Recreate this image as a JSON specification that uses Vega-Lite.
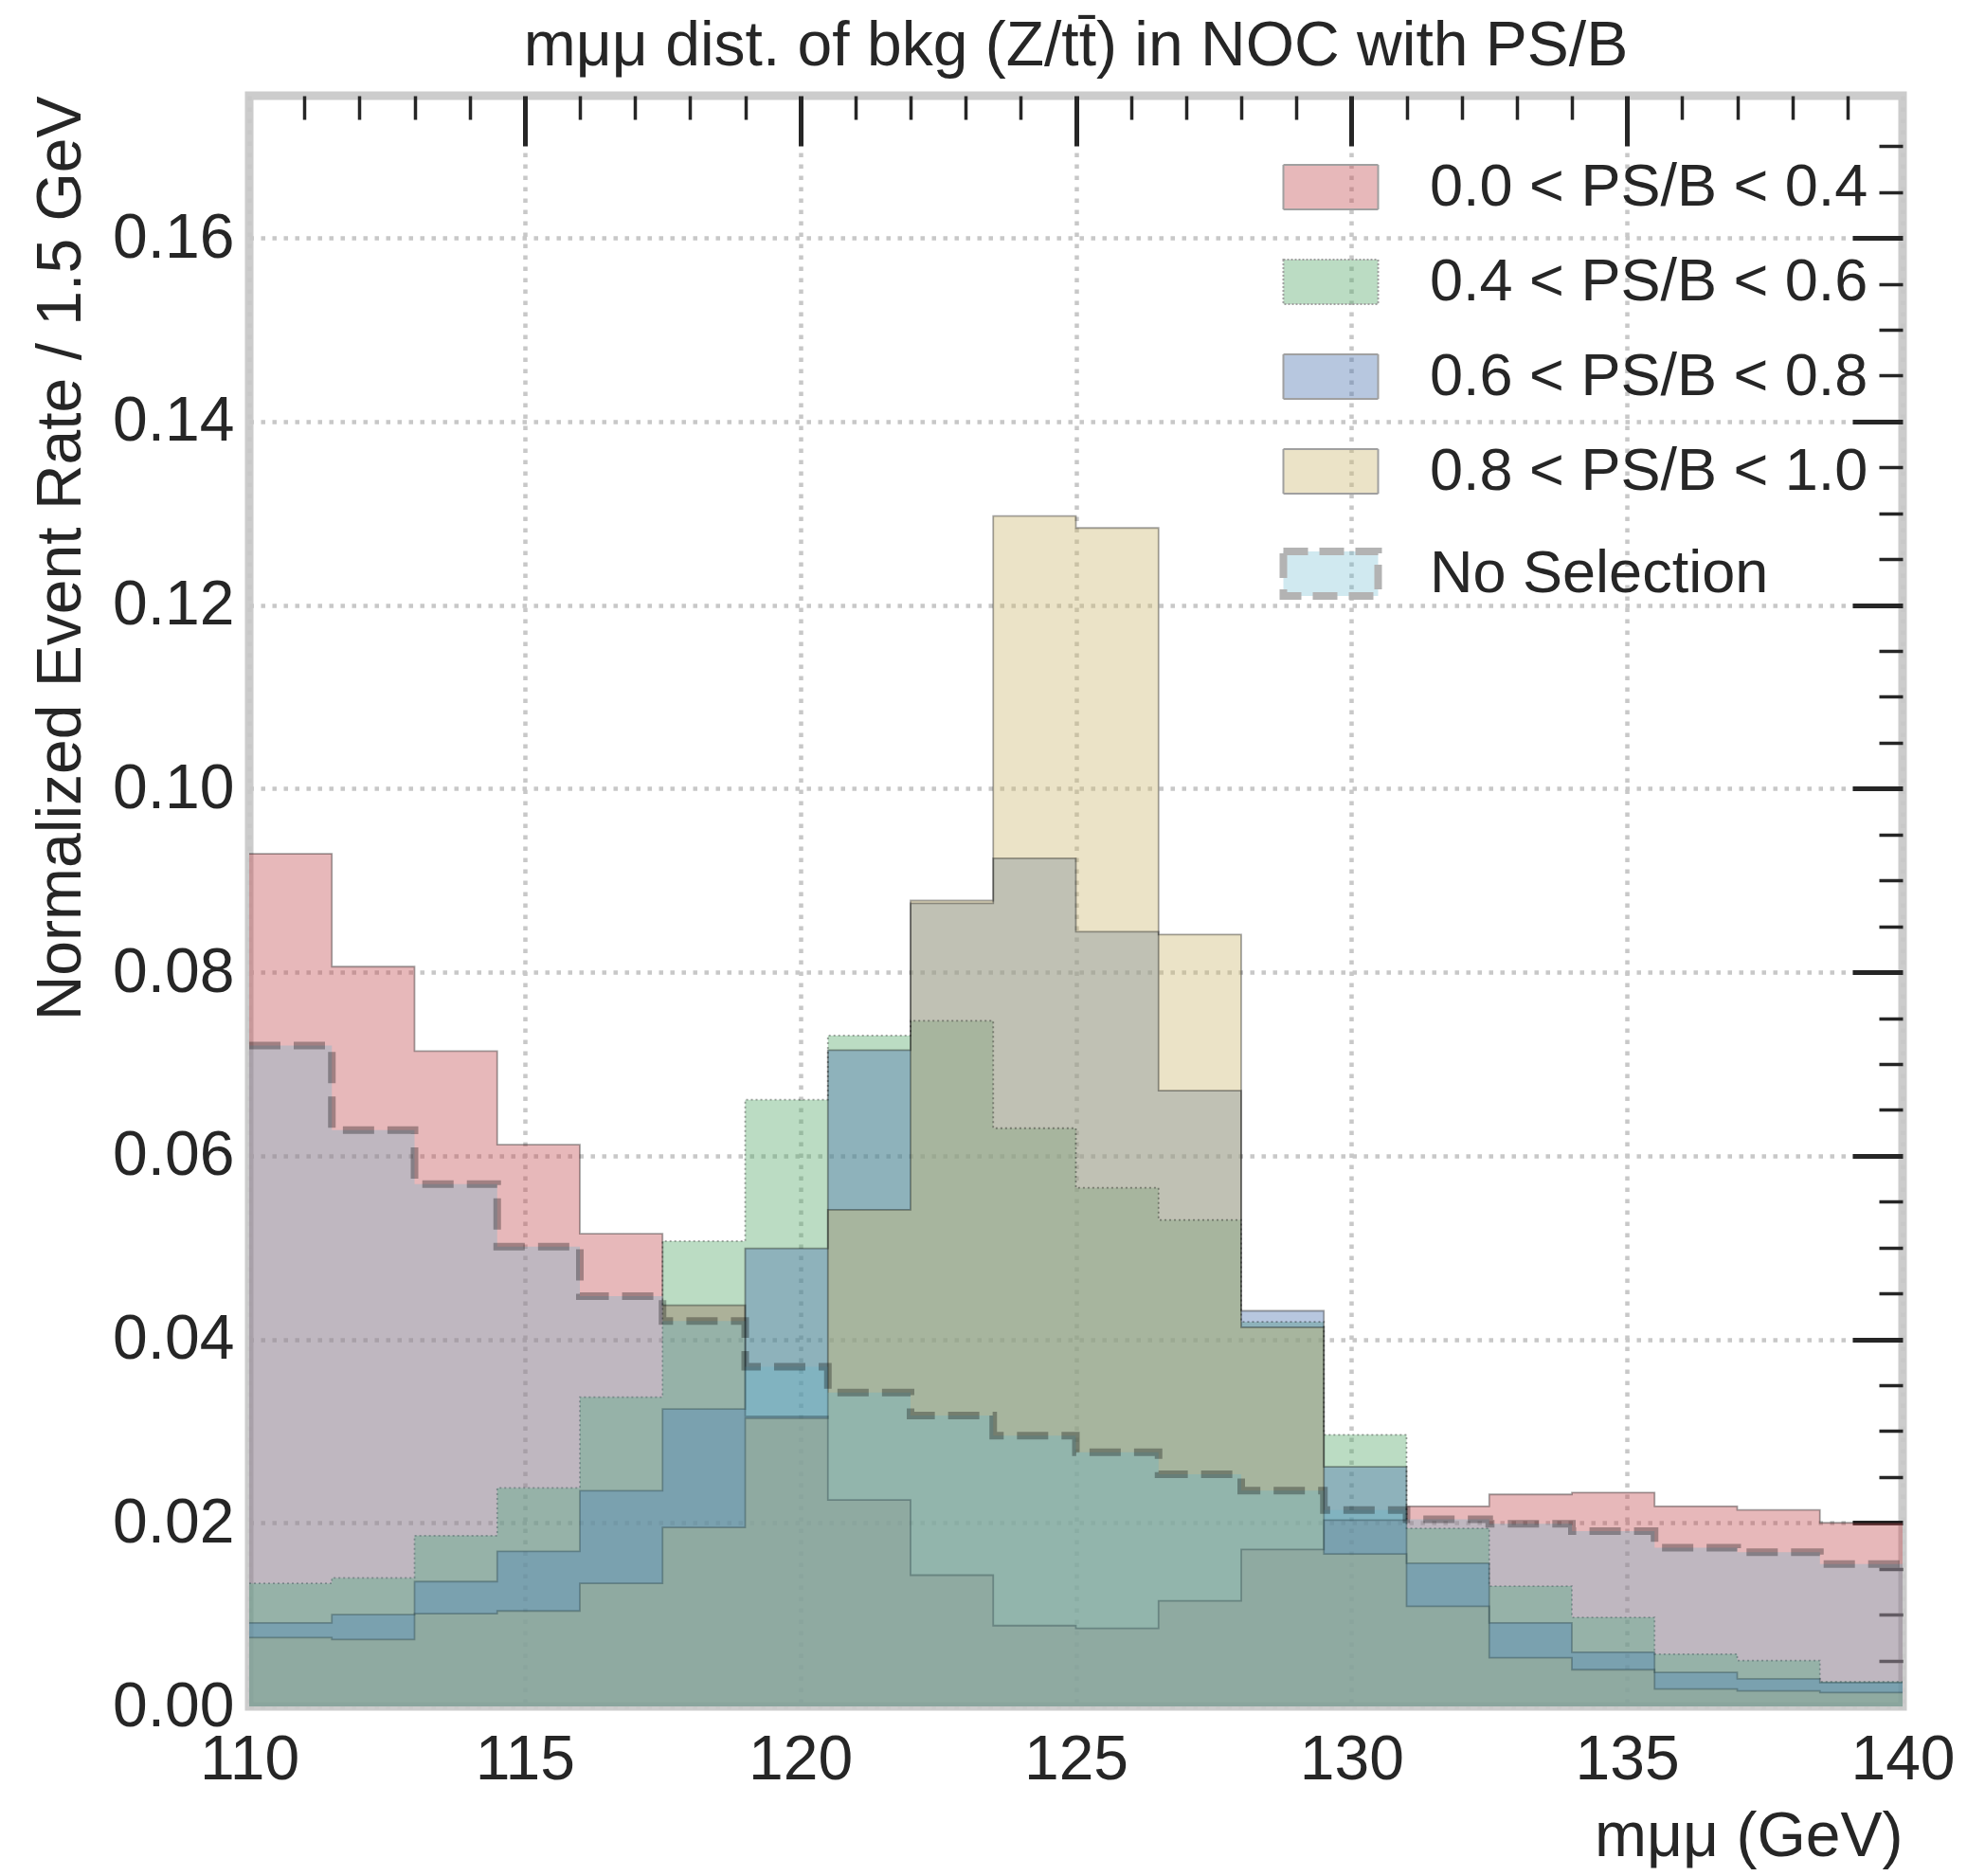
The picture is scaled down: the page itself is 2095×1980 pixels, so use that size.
{
  "$schema": "https://vega.github.io/schema/vega-lite/v6.json",
  "width": 1745,
  "height": 1700,
  "autosize": {"type": "none"},
  "padding": {"left": 263, "top": 101, "right": 87, "bottom": 179},
  "background": "white",
  "title": {"text": "mμμ dist. of bkg (Z/tt̄) in NOC with PS/B", "font": "Liberation Sans", "fontSize": 66, "fontWeight": "normal", "color": "#262626", "anchor": "middle", "frame": "group", "baseline": "alphabetic", "offset": -36},
  "config": {
    "view": {"stroke": "#cccccc", "strokeWidth": 9},
    "font": "Liberation Sans",
    "axis": {"labelFont": "Liberation Sans", "labelFontSize": 66, "labelColor": "#262626", "titleFont": "Liberation Sans", "titleFontSize": 66, "titleFontWeight": "normal", "titleColor": "#262626", "zindex": 0}
  },
  "datasets": {
    "h": [
      {"s": "0.0 < PS/B < 0.4", "lo": 110, "hi": 111.5, "v": 0.0929},
      {"s": "0.0 < PS/B < 0.4", "lo": 111.5, "hi": 113, "v": 0.0806},
      {"s": "0.0 < PS/B < 0.4", "lo": 113, "hi": 114.5, "v": 0.0714},
      {"s": "0.0 < PS/B < 0.4", "lo": 114.5, "hi": 116, "v": 0.0612},
      {"s": "0.0 < PS/B < 0.4", "lo": 116, "hi": 117.5, "v": 0.0515},
      {"s": "0.0 < PS/B < 0.4", "lo": 117.5, "hi": 119, "v": 0.0437},
      {"s": "0.0 < PS/B < 0.4", "lo": 119, "hi": 120.5, "v": 0.0316},
      {"s": "0.0 < PS/B < 0.4", "lo": 120.5, "hi": 122, "v": 0.0225},
      {"s": "0.0 < PS/B < 0.4", "lo": 122, "hi": 123.5, "v": 0.0143},
      {"s": "0.0 < PS/B < 0.4", "lo": 123.5, "hi": 125, "v": 0.0088},
      {"s": "0.0 < PS/B < 0.4", "lo": 125, "hi": 126.5, "v": 0.0085},
      {"s": "0.0 < PS/B < 0.4", "lo": 126.5, "hi": 128, "v": 0.0115},
      {"s": "0.0 < PS/B < 0.4", "lo": 128, "hi": 129.5, "v": 0.0171},
      {"s": "0.0 < PS/B < 0.4", "lo": 129.5, "hi": 131, "v": 0.0203},
      {"s": "0.0 < PS/B < 0.4", "lo": 131, "hi": 132.5, "v": 0.0218},
      {"s": "0.0 < PS/B < 0.4", "lo": 132.5, "hi": 134, "v": 0.0231},
      {"s": "0.0 < PS/B < 0.4", "lo": 134, "hi": 135.5, "v": 0.0233},
      {"s": "0.0 < PS/B < 0.4", "lo": 135.5, "hi": 137, "v": 0.0218},
      {"s": "0.0 < PS/B < 0.4", "lo": 137, "hi": 138.5, "v": 0.0214},
      {"s": "0.0 < PS/B < 0.4", "lo": 138.5, "hi": 140, "v": 0.0200},
      {"s": "0.4 < PS/B < 0.6", "lo": 110, "hi": 111.5, "v": 0.0134},
      {"s": "0.4 < PS/B < 0.6", "lo": 111.5, "hi": 113, "v": 0.0140},
      {"s": "0.4 < PS/B < 0.6", "lo": 113, "hi": 114.5, "v": 0.0186},
      {"s": "0.4 < PS/B < 0.6", "lo": 114.5, "hi": 116, "v": 0.0238},
      {"s": "0.4 < PS/B < 0.6", "lo": 116, "hi": 117.5, "v": 0.0337},
      {"s": "0.4 < PS/B < 0.6", "lo": 117.5, "hi": 119, "v": 0.0507},
      {"s": "0.4 < PS/B < 0.6", "lo": 119, "hi": 120.5, "v": 0.0661},
      {"s": "0.4 < PS/B < 0.6", "lo": 120.5, "hi": 122, "v": 0.0731},
      {"s": "0.4 < PS/B < 0.6", "lo": 122, "hi": 123.5, "v": 0.0747},
      {"s": "0.4 < PS/B < 0.6", "lo": 123.5, "hi": 125, "v": 0.0630},
      {"s": "0.4 < PS/B < 0.6", "lo": 125, "hi": 126.5, "v": 0.0565},
      {"s": "0.4 < PS/B < 0.6", "lo": 126.5, "hi": 128, "v": 0.0530},
      {"s": "0.4 < PS/B < 0.6", "lo": 128, "hi": 129.5, "v": 0.0419},
      {"s": "0.4 < PS/B < 0.6", "lo": 129.5, "hi": 131, "v": 0.0296},
      {"s": "0.4 < PS/B < 0.6", "lo": 131, "hi": 132.5, "v": 0.0194},
      {"s": "0.4 < PS/B < 0.6", "lo": 132.5, "hi": 134, "v": 0.0131},
      {"s": "0.4 < PS/B < 0.6", "lo": 134, "hi": 135.5, "v": 0.0097},
      {"s": "0.4 < PS/B < 0.6", "lo": 135.5, "hi": 137, "v": 0.0057},
      {"s": "0.4 < PS/B < 0.6", "lo": 137, "hi": 138.5, "v": 0.0050},
      {"s": "0.4 < PS/B < 0.6", "lo": 138.5, "hi": 140, "v": 0.0027},
      {"s": "0.6 < PS/B < 0.8", "lo": 110, "hi": 111.5, "v": 0.0091},
      {"s": "0.6 < PS/B < 0.8", "lo": 111.5, "hi": 113, "v": 0.0100},
      {"s": "0.6 < PS/B < 0.8", "lo": 113, "hi": 114.5, "v": 0.0136},
      {"s": "0.6 < PS/B < 0.8", "lo": 114.5, "hi": 116, "v": 0.0169},
      {"s": "0.6 < PS/B < 0.8", "lo": 116, "hi": 117.5, "v": 0.0235},
      {"s": "0.6 < PS/B < 0.8", "lo": 117.5, "hi": 119, "v": 0.0324},
      {"s": "0.6 < PS/B < 0.8", "lo": 119, "hi": 120.5, "v": 0.0499},
      {"s": "0.6 < PS/B < 0.8", "lo": 120.5, "hi": 122, "v": 0.0715},
      {"s": "0.6 < PS/B < 0.8", "lo": 122, "hi": 123.5, "v": 0.0875},
      {"s": "0.6 < PS/B < 0.8", "lo": 123.5, "hi": 125, "v": 0.0924},
      {"s": "0.6 < PS/B < 0.8", "lo": 125, "hi": 126.5, "v": 0.0844},
      {"s": "0.6 < PS/B < 0.8", "lo": 126.5, "hi": 128, "v": 0.0671},
      {"s": "0.6 < PS/B < 0.8", "lo": 128, "hi": 129.5, "v": 0.0431},
      {"s": "0.6 < PS/B < 0.8", "lo": 129.5, "hi": 131, "v": 0.0261},
      {"s": "0.6 < PS/B < 0.8", "lo": 131, "hi": 132.5, "v": 0.0156},
      {"s": "0.6 < PS/B < 0.8", "lo": 132.5, "hi": 134, "v": 0.0091},
      {"s": "0.6 < PS/B < 0.8", "lo": 134, "hi": 135.5, "v": 0.0059},
      {"s": "0.6 < PS/B < 0.8", "lo": 135.5, "hi": 137, "v": 0.0037},
      {"s": "0.6 < PS/B < 0.8", "lo": 137, "hi": 138.5, "v": 0.0030},
      {"s": "0.6 < PS/B < 0.8", "lo": 138.5, "hi": 140, "v": 0.0026},
      {"s": "0.8 < PS/B < 1.0", "lo": 110, "hi": 111.5, "v": 0.0075},
      {"s": "0.8 < PS/B < 1.0", "lo": 111.5, "hi": 113, "v": 0.0073},
      {"s": "0.8 < PS/B < 1.0", "lo": 113, "hi": 114.5, "v": 0.0101},
      {"s": "0.8 < PS/B < 1.0", "lo": 114.5, "hi": 116, "v": 0.0104},
      {"s": "0.8 < PS/B < 1.0", "lo": 116, "hi": 117.5, "v": 0.0134},
      {"s": "0.8 < PS/B < 1.0", "lo": 117.5, "hi": 119, "v": 0.0195},
      {"s": "0.8 < PS/B < 1.0", "lo": 119, "hi": 120.5, "v": 0.0314},
      {"s": "0.8 < PS/B < 1.0", "lo": 120.5, "hi": 122, "v": 0.0541},
      {"s": "0.8 < PS/B < 1.0", "lo": 122, "hi": 123.5, "v": 0.0878},
      {"s": "0.8 < PS/B < 1.0", "lo": 123.5, "hi": 125, "v": 0.1297},
      {"s": "0.8 < PS/B < 1.0", "lo": 125, "hi": 126.5, "v": 0.1284},
      {"s": "0.8 < PS/B < 1.0", "lo": 126.5, "hi": 128, "v": 0.0841},
      {"s": "0.8 < PS/B < 1.0", "lo": 128, "hi": 129.5, "v": 0.0413},
      {"s": "0.8 < PS/B < 1.0", "lo": 129.5, "hi": 131, "v": 0.0166},
      {"s": "0.8 < PS/B < 1.0", "lo": 131, "hi": 132.5, "v": 0.0109},
      {"s": "0.8 < PS/B < 1.0", "lo": 132.5, "hi": 134, "v": 0.0053},
      {"s": "0.8 < PS/B < 1.0", "lo": 134, "hi": 135.5, "v": 0.0040},
      {"s": "0.8 < PS/B < 1.0", "lo": 135.5, "hi": 137, "v": 0.0019},
      {"s": "0.8 < PS/B < 1.0", "lo": 137, "hi": 138.5, "v": 0.0017},
      {"s": "0.8 < PS/B < 1.0", "lo": 138.5, "hi": 140, "v": 0.0015},
      {"s": "No Selection", "lo": 110, "hi": 111.5, "v": 0.0720},
      {"s": "No Selection", "lo": 111.5, "hi": 113, "v": 0.0628},
      {"s": "No Selection", "lo": 113, "hi": 114.5, "v": 0.0569},
      {"s": "No Selection", "lo": 114.5, "hi": 116, "v": 0.0501},
      {"s": "No Selection", "lo": 116, "hi": 117.5, "v": 0.0447},
      {"s": "No Selection", "lo": 117.5, "hi": 119, "v": 0.0420},
      {"s": "No Selection", "lo": 119, "hi": 120.5, "v": 0.0370},
      {"s": "No Selection", "lo": 120.5, "hi": 122, "v": 0.0342},
      {"s": "No Selection", "lo": 122, "hi": 123.5, "v": 0.0317},
      {"s": "No Selection", "lo": 123.5, "hi": 125, "v": 0.0295},
      {"s": "No Selection", "lo": 125, "hi": 126.5, "v": 0.0277},
      {"s": "No Selection", "lo": 126.5, "hi": 128, "v": 0.0253},
      {"s": "No Selection", "lo": 128, "hi": 129.5, "v": 0.0235},
      {"s": "No Selection", "lo": 129.5, "hi": 131, "v": 0.0214},
      {"s": "No Selection", "lo": 131, "hi": 132.5, "v": 0.0204},
      {"s": "No Selection", "lo": 132.5, "hi": 134, "v": 0.0199},
      {"s": "No Selection", "lo": 134, "hi": 135.5, "v": 0.0191},
      {"s": "No Selection", "lo": 135.5, "hi": 137, "v": 0.0173},
      {"s": "No Selection", "lo": 137, "hi": 138.5, "v": 0.0168},
      {"s": "No Selection", "lo": 138.5, "hi": 140, "v": 0.0155}
    ]
  },
  "data": {"name": "h"},
  "transform": [{"fold": ["lo", "hi"], "as": ["edge", "mass"]}],
  "layer": [
    {
      "transform": [{"filter": "datum.s !== 'No Selection'"}],
      "mark": {"type": "area", "fillOpacity": 0.4, "interpolate": "linear"},
      "encoding": {
        "x": {"field": "mass", "type": "quantitative", "scale": {"domain": [110, 140], "nice": false, "zero": false},
          "axis": {"orient": "bottom", "values": [110, 115, 120, 125, 130, 135, 140], "format": "d", "ticks": false, "domain": false, "labelPadding": 24, "labelFlush": false, "grid": true, "gridColor": "#c8c8c8", "gridWidth": 4.5, "gridDash": [4.5, 7.5], "title": "mμμ (GeV)", "titleAnchor": "end", "titlePadding": 16}},
        "y": {"field": "v", "type": "quantitative", "stack": null, "scale": {"domain": [0, 0.1755], "nice": false},
          "axis": {"orient": "left", "values": [0, 0.02, 0.04, 0.06, 0.08, 0.1, 0.12, 0.14, 0.16], "format": ".2f", "ticks": false, "domain": false, "labelPadding": 16, "labelFlush": false, "grid": true, "gridColor": "#c8c8c8", "gridWidth": 4.5, "gridDash": [4.5, 7.5], "title": "Normalized Event Rate / 1.5 GeV", "titleAnchor": "end", "titlePadding": 20}},
        "color": {"field": "s", "type": "nominal",
          "scale": {"domain": ["0.0 < PS/B < 0.4", "0.4 < PS/B < 0.6", "0.6 < PS/B < 0.8", "0.8 < PS/B < 1.0", "No Selection"], "range": ["#C44E52", "#55A868", "#4C72B0", "#CCB974", "#64B5CD"]},
          "legend": {"title": null, "orient": "none", "legendX": 1110, "legendY": 65, "padding": 0, "symbolType": "M-1,-0.47H1V0.47H-1Z", "symbolSize": 10000, "labelFont": "Liberation Sans", "labelFontSize": 63, "labelColor": "#262626", "labelOffset": 73, "labelLimit": 0, "rowPadding": 36,
            "encode": {"symbols": {"update": {
              "opacity": {"value": 1},
              "fillOpacity": {"signal": "datum.value === 'No Selection' ? 0.3 : 0.4"},
              "stroke": {"signal": "datum.value === 'No Selection' ? '#b3b3b3' : '#a0a0a0'"},
              "strokeWidth": {"signal": "datum.value === 'No Selection' ? 8 : 2"},
              "strokeDash": {"signal": "datum.value === 'No Selection' ? [26, 12] : (datum.value === '0.4 < PS/B < 0.6' ? [2, 2] : [1, 0])"}
            }}}}}
      }
    },
    {
      "transform": [{"filter": "datum.s !== 'No Selection'"}],
      "mark": {"type": "line", "stroke": "black", "strokeOpacity": 0.35, "strokeWidth": 1.8, "interpolate": "linear"},
      "encoding": {
        "x": {"field": "mass", "type": "quantitative", "scale": {"domain": [110, 140], "nice": false, "zero": false},
          "axis": {"orient": "top", "values": [115, 120, 125, 130, 135], "labels": false, "domain": false, "grid": false, "ticks": true, "tickSize": -53, "tickWidth": 5, "tickColor": "#262626", "title": null}},
        "y": {"field": "v", "type": "quantitative", "stack": null, "scale": {"domain": [0, 0.1755], "nice": false},
          "axis": {"orient": "right", "values": [0.02, 0.04, 0.06, 0.08, 0.1, 0.12, 0.14, 0.16], "labels": false, "domain": false, "grid": false, "ticks": true, "tickSize": -53, "tickWidth": 5, "tickColor": "#262626", "title": null}},
        "detail": {"field": "s", "type": "nominal"},
        "strokeDash": {"field": "s", "type": "nominal", "scale": {"domain": ["0.0 < PS/B < 0.4", "0.4 < PS/B < 0.6", "0.6 < PS/B < 0.8", "0.8 < PS/B < 1.0"], "range": [[1, 0], [2, 3], [1, 0], [1, 0]]}, "legend": null}
      }
    },
    {
      "transform": [{"filter": "datum.s === 'No Selection'"}],
      "mark": {"type": "area", "fillOpacity": 0.3, "interpolate": "linear"},
      "encoding": {
        "x": {"field": "mass", "type": "quantitative", "scale": {"domain": [110, 140], "nice": false, "zero": false},
          "axis": {"orient": "top", "values": [111, 112, 113, 114, 116, 117, 118, 119, 121, 122, 123, 124, 126, 127, 128, 129, 131, 132, 133, 134, 136, 137, 138, 139], "labels": false, "domain": false, "grid": false, "ticks": true, "tickSize": -25, "tickWidth": 3.5, "tickColor": "#262626", "title": null}},
        "y": {"field": "v", "type": "quantitative", "stack": null, "scale": {"domain": [0, 0.1755], "nice": false},
          "axis": {"orient": "right", "values": [0.005, 0.01, 0.015, 0.025, 0.03, 0.035, 0.045, 0.05, 0.055, 0.065, 0.07, 0.075, 0.085, 0.09, 0.095, 0.105, 0.11, 0.115, 0.125, 0.13, 0.135, 0.145, 0.15, 0.155, 0.165, 0.17], "labels": false, "domain": false, "grid": false, "ticks": true, "tickSize": -25, "tickWidth": 3.5, "tickColor": "#262626", "title": null}},
        "color": {"field": "s", "type": "nominal",
          "scale": {"domain": ["0.0 < PS/B < 0.4", "0.4 < PS/B < 0.6", "0.6 < PS/B < 0.8", "0.8 < PS/B < 1.0", "No Selection"], "range": ["#C44E52", "#55A868", "#4C72B0", "#CCB974", "#64B5CD"]}}
      }
    },
    {
      "transform": [{"filter": "datum.s === 'No Selection'"}],
      "mark": {"type": "line", "stroke": "black", "strokeOpacity": 0.3, "strokeWidth": 8, "strokeDash": [33, 14], "strokeCap": "butt", "strokeJoin": "miter", "interpolate": "linear"},
      "encoding": {
        "x": {"field": "mass", "type": "quantitative", "scale": {"domain": [110, 140], "nice": false, "zero": false}, "axis": null},
        "y": {"field": "v", "type": "quantitative", "stack": null, "scale": {"domain": [0, 0.1755], "nice": false}, "axis": null}
      }
    }
  ],
  "resolve": {"axis": {"x": "independent", "y": "independent"}}
}
